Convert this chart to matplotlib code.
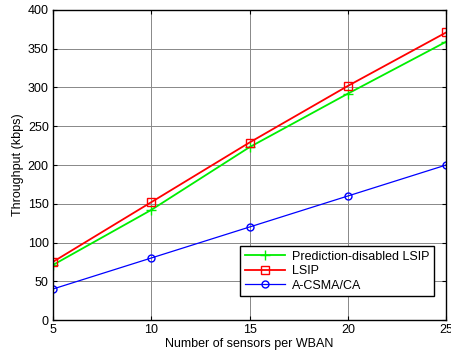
import matplotlib
matplotlib.use("Agg")
import matplotlib.pyplot as plt

sensors = [5, 10, 15, 20, 25]
pred_disabled = [71, 142, 223, 292, 359]
lsip = [75, 152, 229, 302, 371]
acsma = [40, 80, 120, 160, 200]

plt.rcParams['font.family'] = ['Liberation Sans', 'DejaVu Sans']
plt.rcParams['font.size'] = 9

fig = plt.figure(figsize=(4.52, 3.56), dpi=100)
ax = fig.add_axes([0.117, 0.101, 0.870, 0.871])

ax.plot(sensors, pred_disabled, color='#00ee00', marker='+', markersize=7,
        linewidth=1.3, label='Prediction-disabled LSIP')
ax.plot(sensors, lsip, color='#ff0000', marker='s', markersize=6,
        markerfacecolor='none', linewidth=1.3, label='LSIP')
ax.plot(sensors, acsma, color='#0000ff', marker='o', markersize=5,
        markerfacecolor='none', linewidth=0.9, label='A-CSMA/CA')

ax.set_xlim(5, 25)
ax.set_ylim(0, 400)
ax.set_xticks(sensors)
ax.set_yticks(range(0, 401, 50))
ax.grid(True, color='#888888', linewidth=0.7, linestyle='-')
ax.tick_params(direction='in', top=True, right=True, length=3, pad=3)
for s in ax.spines.values():
    s.set_linewidth(1.0)

ax.set_xlabel('Number of sensors per WBAN', labelpad=1)
ax.set_ylabel('Throughput (kbps)', labelpad=3)

leg = ax.legend(loc='lower right', bbox_to_anchor=(0.969, 0.077),
                fancybox=False, framealpha=1, edgecolor='black',
                borderaxespad=0, handlelength=3.2, labelspacing=0.2,
                borderpad=0.35, handletextpad=0.6)
leg.get_frame().set_linewidth(1.0)

fig.savefig('out.png', dpi=100)
